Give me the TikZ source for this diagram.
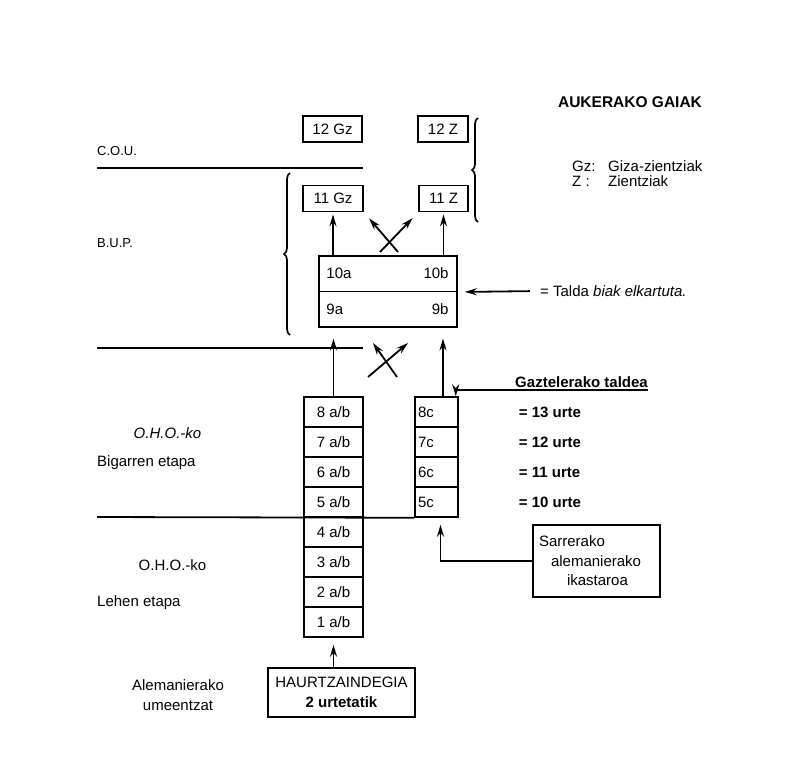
\documentclass[tikz,border=0pt]{standalone}
\usepackage{fontspec}
\setmainfont{Liberation Sans}
\usetikzlibrary{arrows.meta, decorations.pathreplacing}
\tikzset{
  link/.style={
    -{Stealth[length=12pt, width=7pt]},
    line width=1.8pt
  },
  rule line/.style={
    line width=1.8pt
  },
  brace line/.style={
    decorate,
    decoration={brace, amplitude=6pt},
    line width=1.7pt
  },
  grade box/.style={
    draw,
    line width=1.7pt,
    minimum height=26pt,
    inner sep=0pt,
    font=\fontsize{15}{18}\selectfont
  },
  group box/.style={
    draw,
    line width=1.5pt,
    minimum width=138pt,
    minimum height=35.5pt,
    inner sep=0pt
  },
  row box/.style={
    draw,
    line width=1.5pt,
    minimum width=59pt,
    minimum height=30pt,
    inner sep=0pt,
    font=\fontsize{15}{18}\selectfont
  },
  c box/.style={
    draw,
    line width=1.5pt,
    text width=37pt,
    inner xsep=3pt,
    inner ysep=0pt,
    minimum height=30pt,
    align=left,
    font=\fontsize{15}{18}\selectfont
  },
  note/.style={
    inner sep=0pt,
    font=\fontsize{15}{18}\selectfont
  },
  small note/.style={
    inner sep=0pt,
    font=\fontsize{13}{16}\selectfont
  }
}

\begin{document}
\begin{tikzpicture}[x=1pt, y=-1pt, >=Stealth]
  \useasboundingbox (0,0) rectangle (786,772);

  % aukerako gaiak
  \node[grade box, minimum width=59pt] (gz12) at (332.5,129) {12 Gz};
  \node[grade box, minimum width=50pt] (z12) at (443,129) {12 Z};
  \node[grade box, minimum width=60pt] (gz11) at (333,198.5) {11 Gz};
  \node[grade box, minimum width=49pt] (z11) at (443.5,198.5) {11 Z};

  \node[note, font=\fontsize{15.5}{18}\selectfont\bfseries] (gaiak) at (630,102) {AUKERAKO GAIAK};
  \node[note, anchor=west] (gzkey) at (572,166) {Gz:};
  \node[note, anchor=west] (gzdesc) at (608,166) {Giza-zientziak};
  \node[note, anchor=west] (zkey) at (572,181) {Z :};
  \node[note, anchor=west] (zdesc) at (608,181) {Zientziak};

  % C.O.U. eta B.U.P.
  \node[small note, anchor=west] (cou) at (97,151) {C.O.U.};
  \node[small note, anchor=west] (bup) at (97,243) {B.U.P.};
  \draw[rule line] (97,168) -- (363,168);
  \draw[rule line] (97,348) -- (363,348);
  \draw[brace line] (290,335) -- (290,173);
  \draw[brace line] (478,222) -- (478,118);

  % 9. eta 10. mailak
  \node[group box] (g10) at (388,273.5) {};
  \node[group box] (g9) at (388,309) {};
  \node[note, anchor=west] (t10a) at ([xshift=8pt]g10.west) {10a};
  \node[note, anchor=east] (t10b) at ([xshift=-9pt]g10.east) {10b};
  \node[note, anchor=west] (t9a) at ([xshift=8pt]g9.west) {9a};
  \node[note, anchor=east] (t9b) at ([xshift=-9pt]g9.east) {9b};

  \node[note, anchor=west] (talda) at (540,291) {= Talda \textit{biak elkartuta.}};
  \draw[link, shorten <=10pt, shorten >=7pt] (talda.west) -- (g10.south east);

  \draw[link, shorten >=2pt] (g10.north -| gz11.south) -- (gz11.south);
  \draw[link, shorten >=2pt] (g10.north -| z11.south) -- (z11.south);
  \coordinate (ua) at (380,252);
  \coordinate (ub) at (398,252);
  \draw[link, shorten >=8pt] (ua) -- (z11.south west);
  \draw[link, shorten >=8pt] (ub) -- (gz11.south east);

  % O.H.O. mailak
  \foreach \n [count=\i from 0] in {8,7,...,1} {
    \node[row box] (ab\n) at (333.5,412+30*\i) {\n\ a/b};
  }
  \foreach \n [count=\i from 0] in {8,7,6,5} {
    \node[c box] (c\n) at (436.5,412+30*\i) {\n{}c};
  }
  \foreach \n/\age in {8/13,7/12,6/11,5/10} {
    \node[note, anchor=west, font=\fontsize{15}{18}\selectfont\bfseries] (urte\n) at ([xshift=60pt]c\n.east) {= \age\ urte};
  }
  \draw[rule line] (97,517) -- (c5.south west);

  \draw[link, shorten >=11pt] (ab8.north) -- (ab8.north |- g9.south);
  \draw[link, shorten >=11pt] ([xshift=6.5pt]c8.north) -- ([xshift=6.5pt]c8.north |- g9.south);
  \coordinate (la) at (368,377);
  \coordinate (lat) at (408,343);
  \coordinate (lb) at (397,377);
  \coordinate (lbt) at (373,343);
  \draw[link] (la) -- (lat);
  \draw[link] (lb) -- (lbt);

  \node[note, anchor=south east, inner ysep=2pt, font=\fontsize{15}{18}\selectfont\bfseries] (taldea) at (648,390) {Gaztelerako taldea};
  \draw[link] (taldea.south east) -| ([xshift=-3pt]c8.north east);

  \node[note, font=\fontsize{15}{18}\selectfont\itshape] (oho2) at (167.5,433) {O.H.O.-ko};
  \node[note, anchor=west] (etapa2) at (97,463) {Bigarren etapa};
  \node[note] (oho1) at (172.5,565) {O.H.O.-ko};
  \node[note, anchor=west] (etapa1) at (97,603) {Lehen etapa};

  % sarrerako ikastaroa
  \node[draw, line width=1.8pt, text width=115pt, inner xsep=6pt, minimum height=72pt, align=left,
        font=\fontsize{15}{19.5}\selectfont] (kurtsoa) at (596.5,561)
        {Sarrerako\\\hspace*{12pt}alemanierako\\\hspace*{28pt}ikastaroa};
  \draw[link, shorten >=7pt] (kurtsoa.west) -| ([xshift=4pt]c5.south);

  % haurtzaindegia
  \node[draw, line width=1.8pt, minimum width=147pt, minimum height=49pt, align=center,
        font=\fontsize{15}{20}\selectfont] (haur) at (341.5,692.5)
        {HAURTZAINDEGIA\\\textbf{2 urtetatik}};
  \draw[link, shorten >=7pt] (haur.north -| ab1.south) -- (ab1.south);
  \node[note, align=center, font=\fontsize{15}{20}\selectfont] (umeak) at (178,695) {Alemanierako\\umeentzat};
\end{tikzpicture}
\end{document}
